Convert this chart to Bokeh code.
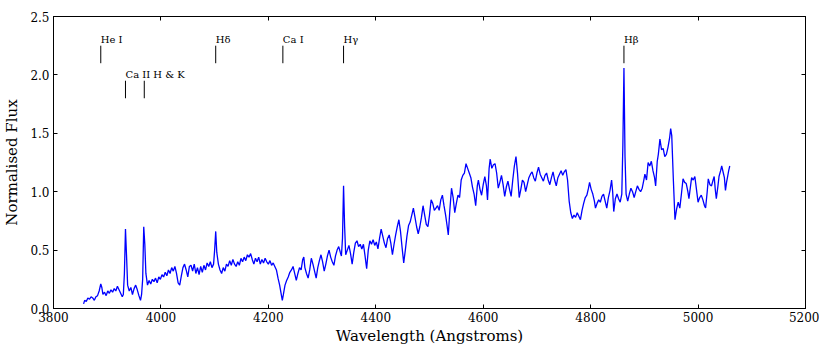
from bokeh.plotting import figure
from bokeh.models import LinearAxis, FixedTicker, PrintfTickFormatter, Range1d, ColumnDataSource
from bokeh.core.properties import value
from bokeh.embed import file_html
from bokeh.resources import INLINE

wavelength = [
    3856,3858,3861,3864,3867,3870,3873,3876,3879,3882,3885,3888,3890,3892,3895,3898,3901,3904,3907,3910,
    3913,3916,3919,3922,3925,3928,3930,3932,3934,3936,3938,3941,3944,3947,3950,3953,3956,3959,3962,3964,
    3966,3968,3970,3972,3975,3978,3981,3984,3987,3990,3993,3996,3999,
    4002,4005,4008,4011,4014,4017,4020,4023,4026,4029,4032,4035,4038,4041,4044,4047,4050,4053,4056,4059,
    4062,4065,4068,4071,4074,4077,4080,4083,4086,4089,4092,4095,4098,4100,4102,4104,4107,4110,4113,4116,
    4119,4122,4125,4128,4131,4134,4137,4140,4143,4146,4149,4152,4155,4158,4161,4164,4167,4170,
    4173,4176,4179,4182,4185,4188,4191,4194,4197,4200,4203,4206,4209,4212,4215,4218,4221,4224,4226,4228,
    4231,4234,4237,4240,4243,4246,4249,4252,4255,4258,4261,4264,4266,4268,4271,4274,4277,4280,4283,4286,
    4289,4292,4295,4298,4301,4304,4307,4310,4313,4316,4319,4322,4325,4328,4331,4334,4336,4338,4340,4342,4344,
    4347,4350,4353,4356,4359,4362,4365,4368,4371,4374,4377,4380,4383,4386,4389,4392,4395,4398,4401,4404,
    4407,4410,4413,4416,4419,4422,4425,4428,4431,4434,4437,4440,4443,4446,4449,4452,4455,4458,4461,4464,
    4467,4470,4473,4476,4479,4482,4485,4488,
    4491,4494,4497,4500,4503,4506,4509,4512,4515,4518,4521,4524,4527,4530,4533,4535,4538,4541,4544,4547,
    4550,4553,4556,4559,4562,4565,4568,4571,4574,4577,4580,4583,4586,4589,4591,4594,4597,4600,4603,4606,
    4608,4611,4613,4616,4619,4622,4625,4628,4631,4634,4637,4640,4643,4646,4649,4652,4655,4658,4661,4664,
    4667,4670,4673,4676,4679,4682,4685,4688,4691,4694,4697,4700,4703,4706,4709,4712,4715,4718,4721,4724,
    4727,4730,4733,4736,4739,4742,4745,4748,4751,4754,4757,
    4760,4763,4766,4769,4772,4775,4778,4781,4784,4787,4790,4793,4796,4798,4801,4804,4807,4809,4812,4815,
    4818,4821,4824,4827,4830,4833,4836,4839,4841,4843,4846,4849,4852,4855,4858,4860,4862,4864,4866,4869,
    4872,4875,4878,4881,4884,4887,4890,4893,4896,4899,4901,4904,4907,4910,4913,4916,4919,4921,4924,4926,
    4929,4932,4935,4938,4941,4944,4947,4949,4951,4954,4957,4960,4963,4966,4969,4972,4975,4978,4981,4983,
    4986,4988,4991,4994,4997,5000,5003,5006,5009,5012,5014,5017,5019,5022,5025,5028,5030,5032,5034,5037,
    5039,5042,5044,5047,5049,5051,5053,5055,5057,5059,
]

flux = [
    0.04,0.07,0.06,0.09,0.08,0.10,0.09,0.07,0.10,0.11,0.15,0.21,0.18,0.12,0.14,0.11,0.15,0.13,0.16,0.14,
    0.17,0.15,0.19,0.16,0.13,0.10,0.12,0.30,0.68,0.45,0.20,0.15,0.18,0.12,0.17,0.20,0.16,0.11,0.07,0.12,
    0.25,0.70,0.55,0.30,0.20,0.24,0.21,0.25,0.23,0.26,0.22,0.27,0.25,
    0.29,0.27,0.31,0.28,0.33,0.30,0.35,0.32,0.36,0.30,0.22,0.20,0.28,0.35,0.38,0.33,0.27,0.36,0.37,0.32,
    0.38,0.30,0.35,0.29,0.36,0.31,0.37,0.33,0.39,0.36,0.40,0.35,0.38,0.50,0.66,0.48,0.38,0.33,0.30,0.35,
    0.32,0.38,0.36,0.41,0.37,0.42,0.38,0.36,0.40,0.37,0.43,0.40,0.44,0.41,0.46,0.44,0.47,0.42,
    0.38,0.43,0.40,0.44,0.38,0.42,0.39,0.43,0.40,0.38,0.41,0.37,0.39,0.36,0.33,0.26,0.20,0.12,0.07,0.12,
    0.20,0.24,0.27,0.31,0.33,0.36,0.30,0.24,0.30,0.35,0.33,0.42,0.44,0.35,0.30,0.26,0.33,0.43,0.38,0.32,
    0.26,0.35,0.41,0.46,0.40,0.32,0.38,0.45,0.50,0.44,0.40,0.37,0.45,0.50,0.53,0.48,0.45,0.60,1.05,0.70,0.46,
    0.50,0.54,0.47,0.38,0.48,0.56,0.58,0.53,0.55,0.51,0.55,0.45,0.34,0.50,0.58,0.55,0.59,0.54,0.57,0.51,
    0.60,0.68,0.62,0.56,0.52,0.60,0.63,0.56,0.46,0.55,0.63,0.70,0.76,0.66,0.52,0.39,0.50,0.62,0.71,0.74,
    0.80,0.86,0.78,0.70,0.64,0.70,0.78,0.88,
    0.80,0.72,0.70,0.80,0.93,0.90,0.84,0.86,0.88,0.84,0.93,0.97,0.88,0.80,0.70,0.63,0.85,1.03,0.95,0.82,
    0.90,0.97,0.95,1.10,1.14,1.16,1.24,1.20,1.16,1.12,1.04,0.98,0.88,1.05,1.10,1.02,0.97,1.06,1.13,1.05,
    0.93,1.20,1.28,1.20,1.23,1.24,1.16,1.03,1.08,1.14,1.06,0.96,1.04,1.09,1.02,0.96,1.10,1.22,1.30,1.15,
    0.95,1.02,1.10,1.08,1.00,1.06,1.12,1.15,1.17,1.12,1.09,1.16,1.21,1.15,1.12,1.09,1.14,1.16,1.10,1.06,
    1.12,1.17,1.10,1.05,1.12,1.15,1.18,1.14,1.17,1.19,1.10,
    0.92,0.82,0.77,0.80,0.78,0.82,0.79,0.76,0.84,0.90,0.95,0.97,1.03,1.08,1.02,0.98,0.92,0.86,0.90,0.93,
    0.91,0.96,0.98,0.92,0.86,0.95,1.01,1.10,1.00,0.83,0.94,0.98,0.94,0.91,0.98,1.40,2.06,1.30,0.98,0.92,
    0.98,1.03,1.00,0.95,1.00,1.05,1.02,1.00,1.03,1.10,1.15,1.10,1.25,1.22,1.26,1.18,1.12,1.05,1.26,1.32,
    1.45,1.36,1.37,1.30,1.32,1.38,1.46,1.54,1.48,1.10,0.76,0.85,0.91,0.86,0.98,1.11,1.08,1.07,1.00,0.94,
    1.05,1.12,1.10,1.13,1.02,0.91,0.95,0.97,0.93,0.88,0.86,1.00,1.11,1.06,1.05,1.10,1.13,1.02,0.94,1.05,
    1.13,1.18,1.22,1.16,1.12,1.01,1.08,1.13,1.18,1.22,
]

line_labels = ["He I", "Ca II H & K", "H\u03b4", "Ca I", "H\u03b3", "H\u03b2"]
line_label_wavelengths = [3888, 3934, 4102, 4227, 4340, 4862]
line_label_levels = [2.30, 2.00, 2.30, 2.30, 2.30, 2.30]

marker_wavelengths = [3888, 3934, 3969, 4102, 4227, 4340, 4862]
marker_bottoms = [2.10, 1.80, 1.80, 2.10, 2.10, 2.10, 2.10]
marker_tops = [2.25, 1.95, 1.95, 2.25, 2.25, 2.25, 2.25]

x_ticks = [3800, 4000, 4200, 4400, 4600, 4800, 5000, 5200]
y_ticks = [0.0, 0.5, 1.0, 1.5, 2.0, 2.5]

FONT = "DejaVu Serif"

p = figure(width=819, height=347, output_backend="svg", toolbar_location=None,
           x_range=Range1d(3800, 5200), y_range=Range1d(0, 2.5),
           min_border_left=44, min_border_right=14, min_border_top=16, min_border_bottom=20,
           x_axis_label="Wavelength (Angstroms)", y_axis_label="Normalised Flux")
p.grid.visible = False
p.outline_line_color = "black"
p.outline_line_width = 1
p.background_fill_color = "white"
p.border_fill_color = "white"

for ax in (p.xaxis[0], p.yaxis[0]):
    ax.major_tick_in = 4
    ax.major_tick_out = 0
    ax.minor_tick_line_color = None
    ax.axis_line_color = "black"
    ax.major_tick_line_color = "black"
    ax.major_label_text_font = FONT
    ax.major_label_text_font_size = "12px"
    ax.major_label_text_color = "black"
    ax.axis_label_text_font = FONT
    ax.axis_label_text_font_size = "15px"
    ax.axis_label_text_font_style = "normal"
    ax.axis_label_text_color = "black"

p.xaxis[0].ticker = FixedTicker(ticks=x_ticks)
p.xaxis[0].major_label_standoff = 3
p.xaxis[0].axis_label_standoff = 2
p.yaxis[0].ticker = FixedTicker(ticks=y_ticks)
p.yaxis[0].formatter = PrintfTickFormatter(format="%.1f")
p.yaxis[0].major_label_standoff = 4
p.yaxis[0].axis_label_standoff = 6

top = LinearAxis(ticker=FixedTicker(ticks=x_ticks), major_tick_in=4, major_tick_out=0,
                 minor_tick_line_color=None, major_label_text_font_size="0px",
                 major_label_text_color=None, major_label_standoff=0, axis_line_color="black")
right = LinearAxis(ticker=FixedTicker(ticks=y_ticks), major_tick_in=4, major_tick_out=0,
                   minor_tick_line_color=None, major_label_text_font_size="0px",
                   major_label_text_color=None, major_label_standoff=0, axis_line_color="black")
p.add_layout(top, "above")
p.add_layout(right, "right")

src = ColumnDataSource(dict(w=wavelength, f=flux))
p.line("w", "f", source=src, line_color="#0000ff", line_width=1.3)

msrc = ColumnDataSource(dict(x=marker_wavelengths, y0=marker_bottoms, y1=marker_tops))
p.segment(x0="x", y0="y0", x1="x", y1="y1", source=msrc, line_color="black", line_width=1)

lsrc = ColumnDataSource(dict(x=line_label_wavelengths, y=line_label_levels, t=line_labels))
p.text(x="x", y="y", text="t", source=lsrc, text_font=value(FONT), text_font_size="10px",
       text_align="left", text_baseline="alphabetic", text_color="black")

open("out.html", "w").write(file_html(p, INLINE))
